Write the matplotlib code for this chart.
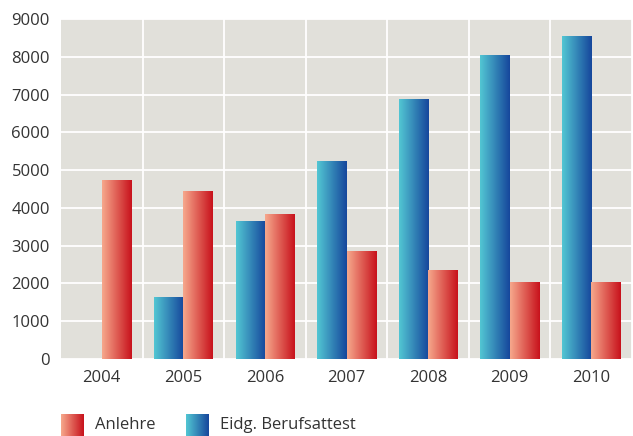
import matplotlib.pyplot as plt
import numpy as np

plt.rcParams['font.family'] = ['Open Sans', 'DejaVu Sans']

years = ['2004', '2005', '2006', '2007', '2008', '2009', '2010']
anlehre = [4750, 4450, 3850, 2850, 2350, 2030, 2030]
attest = [10, 1640, 3650, 5250, 6880, 8050, 8560]

red_cols = ['#f6a88c', '#c8121c']
blue_cols = ['#52c6d3', '#16479c']


def grad_cmap(cols):
    from matplotlib.colors import LinearSegmentedColormap
    return LinearSegmentedColormap.from_list('g', cols)


def gradient_bars(ax, bars, cols):
    cm = grad_cmap(cols)
    g = np.linspace(0, 1, 64).reshape(1, -1)
    for b in bars:
        x, y = b.get_x(), b.get_y()
        w, h = b.get_width(), b.get_height()
        b.set_facecolor('none')
        im = ax.imshow(g, cmap=cm, aspect='auto', extent=[x, x + w, y, y + h],
                       zorder=3, interpolation='bicubic')
        im.set_clip_path(b)


fig = plt.figure(figsize=(6.33, 4.36), dpi=100)
ax = fig.add_axes([61 / 633, 1 - 359 / 436, 571 / 633, 340 / 436])
ax.set_facecolor('#e1e0da')

x = np.arange(len(years))
w = 0.36
b1 = ax.bar(x - w / 2, attest, w, linewidth=0, zorder=3)
b2 = ax.bar(x + w / 2, anlehre, w, linewidth=0, zorder=3)
gradient_bars(ax, b1, blue_cols)
gradient_bars(ax, b2, red_cols)

ax.set_xlim(-0.5, len(years) - 0.5)
ax.set_ylim(0, 9000)
ax.set_yticks(range(0, 9001, 1000))
ax.set_xticks(x)
ax.set_xticklabels(years)
ax.set_xticks(np.arange(0.5, len(years), 1), minor=True)
ax.grid(True, which='minor', axis='x', color='white', linewidth=1.3, zorder=1)
ax.grid(True, which='major', axis='y', color='white', linewidth=1.3, zorder=1)
ax.set_axisbelow(True)
for s in ax.spines.values():
    s.set_visible(False)
ax.tick_params(axis='both', which='both', length=0, labelsize=12, colors='#333333')
ax.tick_params(axis='x', pad=8)
ax.tick_params(axis='y', pad=8)

# legend
for lx, cols, label in [(61, red_cols, 'Anlehre'), (186, blue_cols, 'Eidg. Berufsattest')]:
    la = fig.add_axes([lx / 633, 1 - 436 / 436, 23 / 633, 22 / 436])
    la.imshow(np.linspace(0, 1, 64).reshape(1, -1), cmap=grad_cmap(cols),
              aspect='auto', interpolation='bicubic')
    la.axis('off')
    fig.text((lx + 34) / 633, 1 - 425 / 436, label, fontsize=12,
             color='#333333', va='center', ha='left')

fig.savefig('out.png', dpi=100)
